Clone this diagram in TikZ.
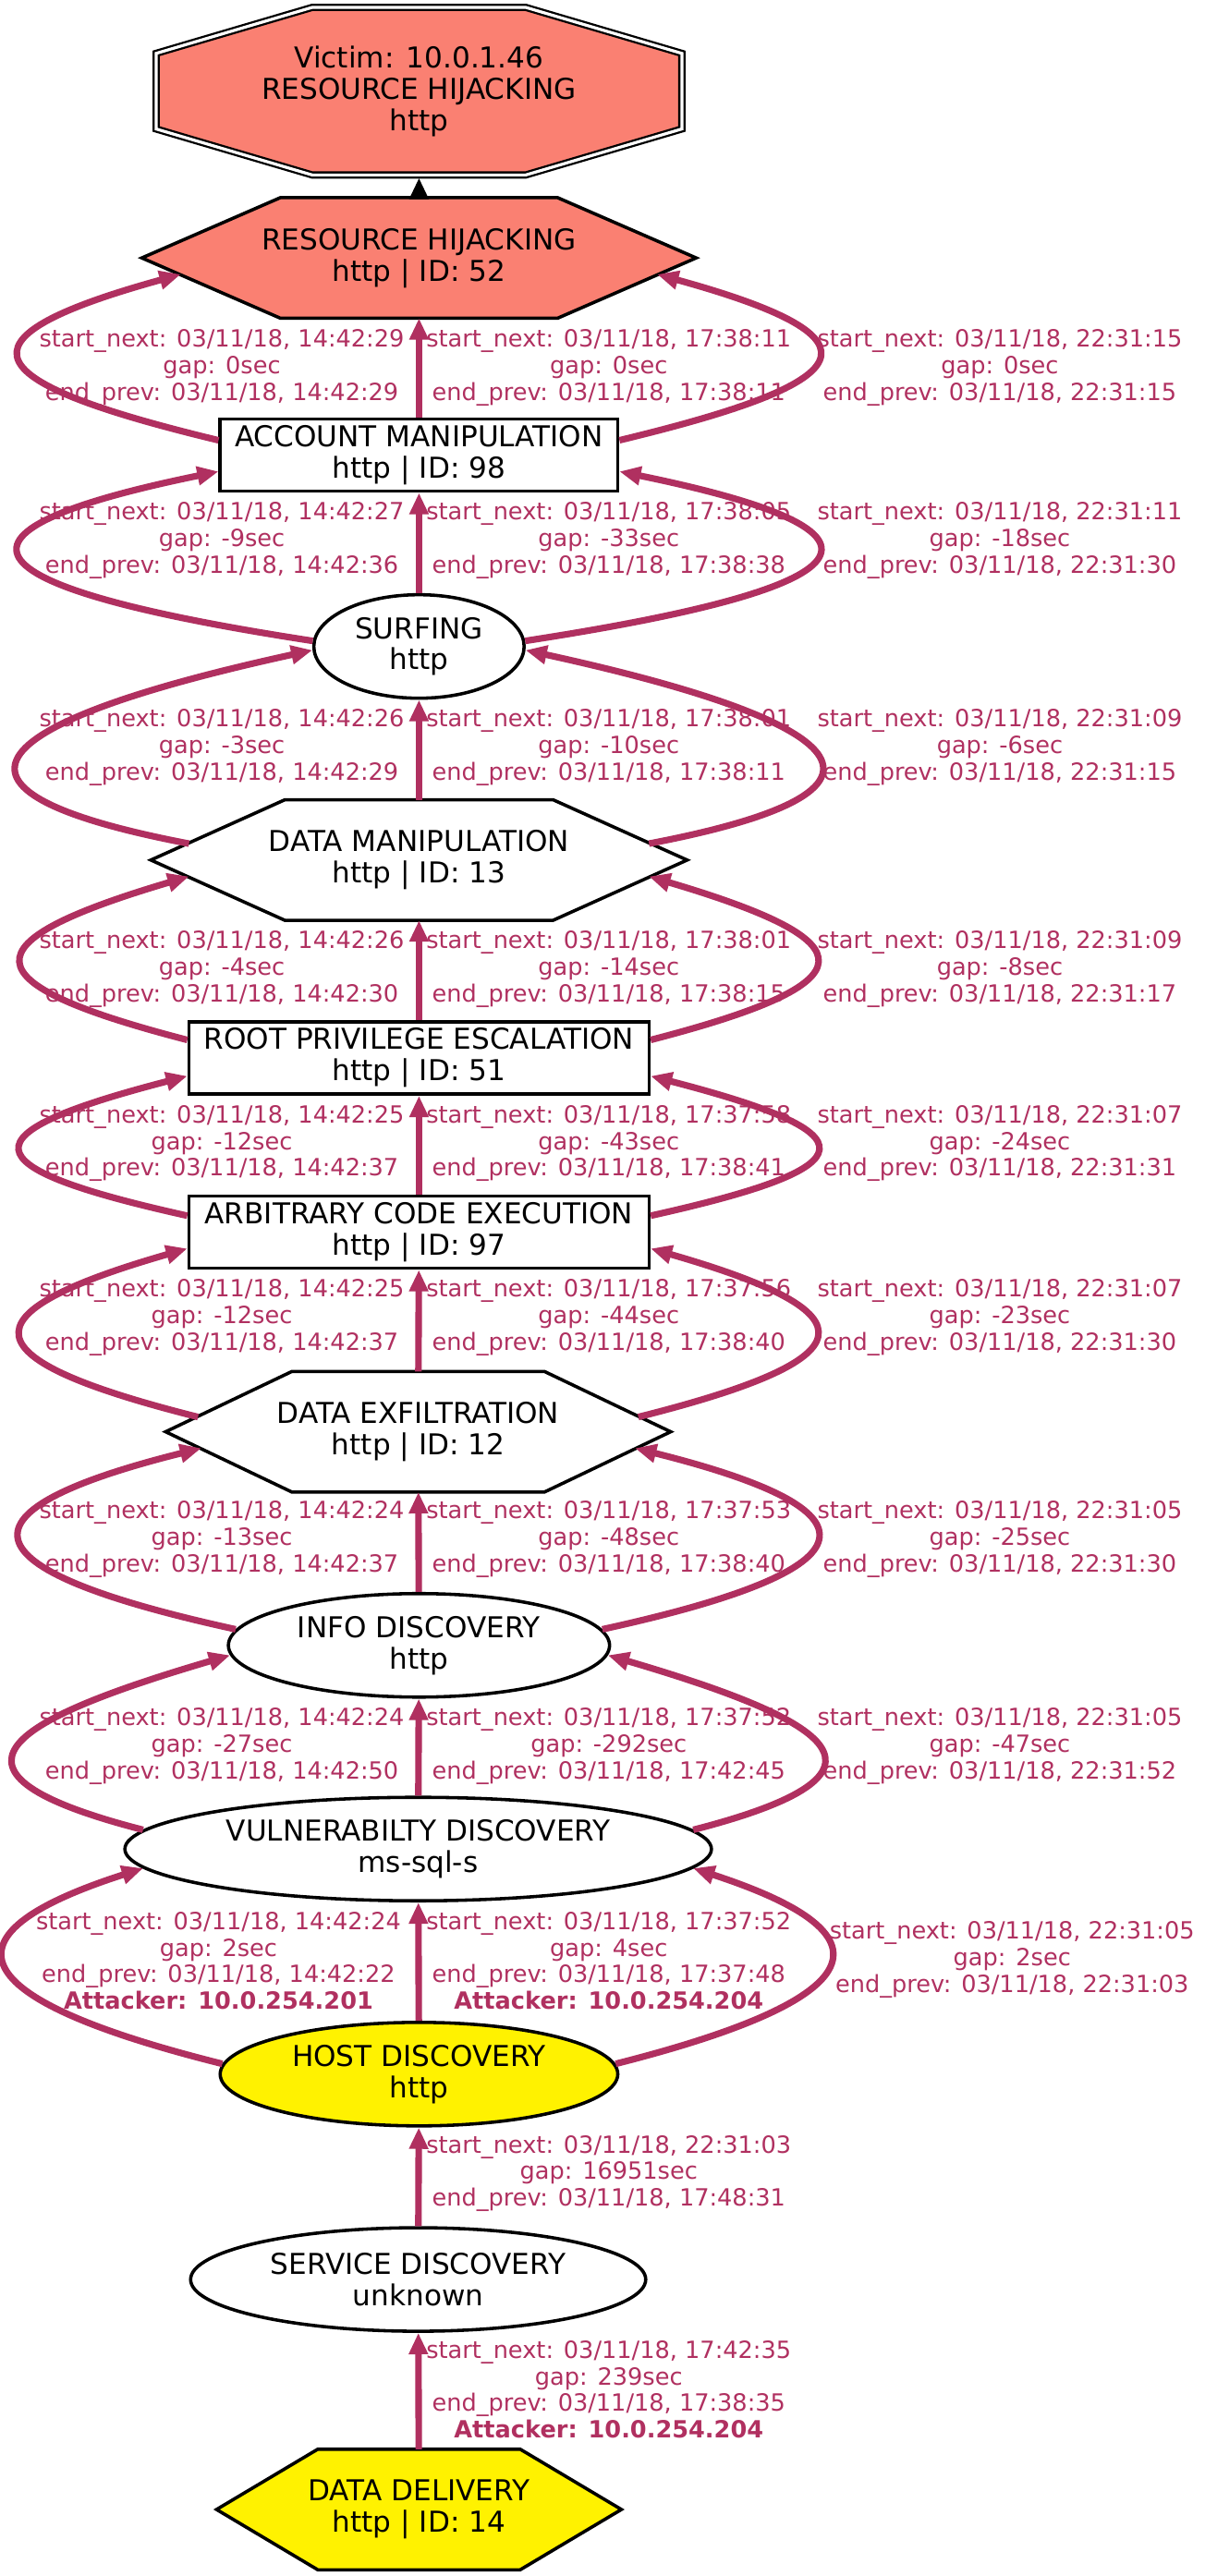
\documentclass[tikz,border=0pt]{standalone}
\usepackage{fontspec}
\setmainfont{DejaVu Sans}
\usetikzlibrary{arrows.meta,calc,shapes.geometric}
\definecolor{edgecol}{HTML}{B03060}
\definecolor{salmon}{HTML}{FA8072}
\pgfdeclarelayer{bg}
\pgfsetlayers{bg,main}
\newcommand{\gaplabel}[3]{start\_next: 03/11/18, #1\\gap: #2sec\\end\_prev: 03/11/18, #3}
\begin{document}
\begin{tikzpicture}[x=1pt,y=1pt,
  base/.style={align=center,inner sep=0pt,font=\fontsize{17.5}{19.1}\selectfont},
  rectbox/.style={base,draw,line width=2pt,minimum height=44},
  oval/.style={base,ellipse,draw,line width=2pt,minimum height=63},
  hexbox/.style={base,minimum height=73},
  flow/.style={edgecol,line width=4pt,-{Triangle[length=13pt,width=11pt]}},
  lab/.style={text=edgecol,align=center,inner sep=0pt,font=\fontsize{14.4}{16.2}\selectfont}]
\useasboundingbox (0,0) rectangle (733,-1568);
% nodes
\node[base,minimum width=324,minimum height=105] (victim) at (255,-55.5) {Victim: 10.0.1.46\\RESOURCE HIJACKING\\http};
\node[hexbox,minimum width=337] (rh) at (255,-157) {RESOURCE HIJACKING\\http | ID: 52};
\node[rectbox,minimum width=242] (am) at (255,-277) {ACCOUNT MANIPULATION\\http | ID: 98};
\node[oval,minimum width=128] (surf) at (255,-393.5) {SURFING\\http};
\node[hexbox,minimum width=326] (dm) at (255,-523.5) {DATA MANIPULATION\\http | ID: 13};
\node[rectbox,minimum width=280] (root) at (255,-644) {ROOT PRIVILEGE ESCALATION\\http | ID: 51};
\node[rectbox,minimum width=280] (arb) at (255,-750) {ARBITRARY CODE EXECUTION\\http | ID: 97};
\node[hexbox,minimum width=307] (de) at (254.5,-871.5) {DATA EXFILTRATION\\http | ID: 12};
\node[oval,minimum width=232] (info) at (255,-1001.5) {INFO DISCOVERY\\http};
\node[oval,minimum width=357] (vuln) at (254.5,-1125.5) {VULNERABILTY DISCOVERY\\ms-sql-s};
\node[oval,minimum width=242,fill=yellow] (host) at (255,-1262.5) {HOST DISCOVERY\\http};
\node[oval,minimum width=277] (serv) at (254.5,-1387.5) {SERVICE DISCOVERY\\unknown};
\node[hexbox,minimum width=246] (dd) at (255,-1527.5) {DATA DELIVERY\\http | ID: 14};
% outlines
\begin{pgfonlayer}{bg}
\draw[line width=1.3pt,double=white,double distance=1.8pt,fill=salmon]
  ([shift={(-65,51)}]victim.center) -- ([shift={(65,51)}]victim.center)
  -- ([shift={(160,23)}]victim.center) -- ([shift={(160,-23)}]victim.center)
  -- ([shift={(65,-51)}]victim.center) -- ([shift={(-65,-51)}]victim.center)
  -- ([shift={(-160,-23)}]victim.center) -- ([shift={(-160,23)}]victim.center) -- cycle;
\foreach \n/\c in {rh/salmon,dm/white,de/white,dd/yellow}
  \draw[line width=2pt,fill=\c] (\n.west) -- ($(\n.north west)!.25!(\n.north east)$)
    -- ($(\n.north west)!.75!(\n.north east)$) -- (\n.east)
    -- ($(\n.south west)!.75!(\n.south east)$) -- ($(\n.south west)!.25!(\n.south east)$) -- cycle;
\end{pgfonlayer}
%
\draw[line width=3.5pt,-{Triangle[length=13pt,width=11pt]}] (rh) -- (victim);
%
\draw[flow] ([yshift=9]am.west) .. controls +(-145,35) and +(-145,-40) .. ([shift={(-145,-10)}]rh.center);
\draw[flow] (am) -- (rh);
\draw[flow] ([yshift=9]am.east) .. controls +(145,35) and +(145,-40) .. ([shift={(145,-10)}]rh.center);
\node[lab] (l-am-l) at (135,-224) {\gaplabel{14:42:29}{0}{14:42:29}};
\node[lab] (l-am-m) at (370.5,-224) {\gaplabel{17:38:11}{0}{17:38:11}};
\node[lab] (l-am-r) at (608.5,-224) {\gaplabel{22:31:15}{0}{22:31:15}};
%
\draw[flow] (surf.177) .. controls +(-195,30) and +(-195,-40) .. ([yshift=-10]am.west);
\draw[flow] (surf) -- (am);
\draw[flow] (surf.3) .. controls +(195,30) and +(195,-40) .. ([yshift=-10]am.east);
\node[lab] (l-surf-l) at (135,-329) {\gaplabel{14:42:27}{-9}{14:42:36}};
\node[lab] (l-surf-m) at (370.5,-329) {\gaplabel{17:38:05}{-33}{17:38:38}};
\node[lab] (l-surf-r) at (608.5,-329) {\gaplabel{22:31:11}{-18}{22:31:30}};
%
\draw[flow] ([shift={(-140,10)}]dm.center) .. controls +(-183,35) and +(-183,-40) .. (surf.182);
\draw[flow] (dm) -- (surf);
\draw[flow] ([shift={(140,10)}]dm.center) .. controls +(183,35) and +(183,-40) .. (surf.358);
\node[lab] (l-dm-l) at (135,-455) {\gaplabel{14:42:26}{-3}{14:42:29}};
\node[lab] (l-dm-m) at (370.5,-455) {\gaplabel{17:38:01}{-10}{17:38:11}};
\node[lab] (l-dm-r) at (608.5,-455) {\gaplabel{22:31:09}{-6}{22:31:15}};
%
\draw[flow] ([yshift=11]root.west) .. controls +(-135,35) and +(-135,-40) .. ([shift={(-140,-10)}]dm.center);
\draw[flow] (root) -- (dm);
\draw[flow] ([yshift=11]root.east) .. controls +(135,35) and +(135,-40) .. ([shift={(140,-10)}]dm.center);
\node[lab] (l-root-l) at (135,-590) {\gaplabel{14:42:26}{-4}{14:42:30}};
\node[lab] (l-root-m) at (370.5,-590) {\gaplabel{17:38:01}{-14}{17:38:15}};
\node[lab] (l-root-r) at (608.5,-590) {\gaplabel{22:31:09}{-8}{22:31:17}};
%
\draw[flow] ([yshift=10]arb.west) .. controls +(-135,30) and +(-135,-35) .. ([yshift=-11]root.west);
\draw[flow] (arb) -- (root);
\draw[flow] ([yshift=10]arb.east) .. controls +(135,30) and +(135,-35) .. ([yshift=-11]root.east);
\node[lab] (l-arb-l) at (135,-696) {\gaplabel{14:42:25}{-12}{14:42:37}};
\node[lab] (l-arb-m) at (370.5,-696) {\gaplabel{17:37:58}{-43}{17:38:41}};
\node[lab] (l-arb-r) at (608.5,-696) {\gaplabel{22:31:07}{-24}{22:31:31}};
%
\draw[flow] ([shift={(-134,9)}]de.center) .. controls +(-139,35) and +(-139,-40) .. ([yshift=-10]arb.west);
\draw[flow] (de) -- (arb);
\draw[flow] ([shift={(134,9)}]de.center) .. controls +(139,35) and +(139,-40) .. ([yshift=-10]arb.east);
\node[lab] (l-de-l) at (135,-802) {\gaplabel{14:42:25}{-12}{14:42:37}};
\node[lab] (l-de-m) at (370.5,-802) {\gaplabel{17:37:56}{-44}{17:38:40}};
\node[lab] (l-de-r) at (608.5,-802) {\gaplabel{22:31:07}{-23}{22:31:30}};
%
\draw[flow] (info.175) .. controls +(-160,35) and +(-160,-40) .. ([shift={(-132,-10)}]de.center);
\draw[flow] (info) -- (de);
\draw[flow] (info.5) .. controls +(160,35) and +(160,-40) .. ([shift={(132,-10)}]de.center);
\node[lab] (l-info-l) at (135,-937) {\gaplabel{14:42:24}{-13}{14:42:37}};
\node[lab] (l-info-m) at (370.5,-937) {\gaplabel{17:37:53}{-48}{17:38:40}};
\node[lab] (l-info-r) at (608.5,-937) {\gaplabel{22:31:05}{-25}{22:31:30}};
%
\draw[flow] (vuln.176) .. controls +(-136,35) and +(-136,-40) .. (info.183);
\draw[flow] (vuln) -- (info);
\draw[flow] (vuln.4) .. controls +(136,35) and +(136,-40) .. (info.357);
\node[lab] (l-vuln-l) at (135,-1063) {\gaplabel{14:42:24}{-27}{14:42:50}};
\node[lab] (l-vuln-m) at (370.5,-1063) {\gaplabel{17:37:52}{-292}{17:42:45}};
\node[lab] (l-vuln-r) at (608.5,-1063) {\gaplabel{22:31:05}{-47}{22:31:52}};
%
\draw[flow] (host.177) .. controls +(-140,35) and +(-140,-45) .. (vuln.184);
\draw[flow] (host) -- (vuln);
\draw[flow] (host.3) .. controls +(138,35) and +(138,-45) .. (vuln.356);
\node[lab] (l-host-l) at (133,-1193.5) {\gaplabel{14:42:24}{2}{14:42:22}\\\textbf{Attacker: 10.0.254.201}};
\node[lab] (l-host-m) at (370.5,-1193.5) {\gaplabel{17:37:52}{4}{17:37:48}\\\textbf{Attacker: 10.0.254.204}};
\node[lab] (l-host-r) at (616,-1193) {\gaplabel{22:31:05}{2}{22:31:03}};
%
\draw[flow] (serv) -- (host);
\node[lab] (l-serv-m) at (370.5,-1323) {\gaplabel{22:31:03}{16951}{17:48:31}};
%
\draw[flow] (dd) -- (serv);
\node[lab] (l-dd-m) at (370.5,-1454.5) {\gaplabel{17:42:35}{239}{17:38:35}\\\textbf{Attacker: 10.0.254.204}};
\end{tikzpicture}
\end{document}
